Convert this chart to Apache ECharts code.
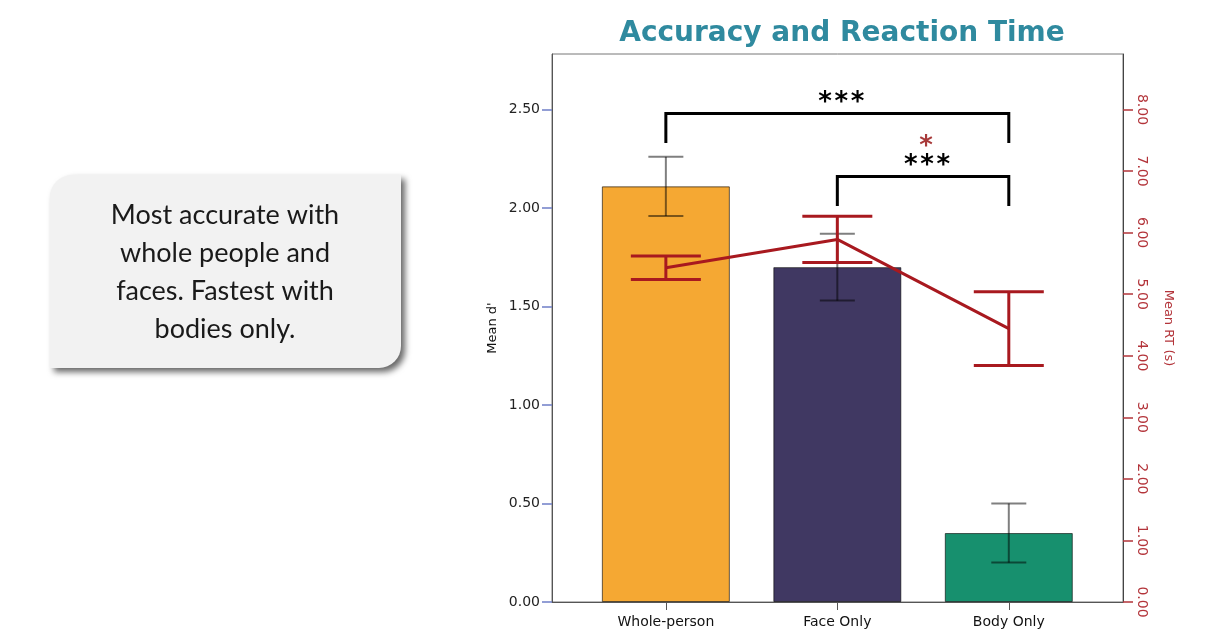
<!DOCTYPE html>
<html>
<head>
<meta charset="utf-8">
<script src="https://cdn.jsdelivr.net/npm/echarts@6/dist/echarts.min.js"></script>
<style>
html, body { margin: 0; padding: 0; background: #fff; }
#chart { width: 1217px; height: 629px; }
</style>
</head>
<body>
<div id="chart"></div>
<script>
// Conditions on the x axis
const categories = ['Whole-person', 'Face Only', 'Body Only'];
// Sensitivity (d') per condition, with error bar half-widths
const accuracyMean = [2.11, 1.70, 0.35];
const accuracyErr = [0.15, 0.17, 0.15];
// Mean reaction time in seconds, with error bar half-widths
const rtMean = [5.43, 5.89, 4.44];
const rtErr = [0.19, 0.375, 0.60];
// Tick values of both y axes
const dPrimeTicks = [0, 0.5, 1, 1.5, 2, 2.5];
const rtTicks = [0, 1, 2, 3, 4, 5, 6, 7, 8];
// Significance brackets: condition pair, bracket height and foot (d' units)
const comparisons = [
  { from: 0, to: 2, level: 2.48, foot: 2.33, stars: '***', rtStars: '' },
  { from: 1, to: 2, level: 2.16, foot: 2.01, stars: '***', rtStars: '*' }
];
const calloutLines = ['Most accurate with', 'whole people and', 'faces. Fastest with', 'bodies only.'];

const barColors = ['#f5a833', '#403862', '#17906e'];
const RED = '#a8191f';
const RED_AXIS = '#b3343a';

const chart = echarts.init(document.getElementById('chart'), null, { renderer: 'canvas' });

function errorBarRenderer(half, color, width) {
  return function (params, api) {
    const x = api.value(0), m = api.value(1), e = api.value(2);
    const hi = api.coord([x, m + e]);
    const lo = api.coord([x, m - e]);
    const st = { stroke: color, lineWidth: width };
    return {
      type: 'group',
      children: [
        { type: 'line', shape: { x1: hi[0], y1: hi[1], x2: lo[0], y2: lo[1] }, style: st },
        { type: 'line', shape: { x1: hi[0] - half, y1: hi[1], x2: hi[0] + half, y2: hi[1] }, style: st },
        { type: 'line', shape: { x1: lo[0] - half, y1: lo[1], x2: lo[0] + half, y2: lo[1] }, style: st }
      ]
    };
  };
}

const starFont = 'bold 26px "DejaVu Sans"';
const spaced = s => s.split('').join('\u200A');

const option = {
  backgroundColor: '#fff',
  animation: false,
  title: {
    text: 'Accuracy and Reaction Time',
    left: 837,
    top: 15,
    textAlign: 'center',
    textStyle: { fontFamily: 'DejaVu Sans', fontWeight: 'bold', fontSize: 28, color: '#2f8a9f' }
  },
  grid: {
    left: 552, top: 54, width: 571, height: 548,
    show: true, borderColor: '#777', borderWidth: 1, backgroundColor: 'transparent'
  },
  xAxis: {
    type: 'value',
    min: -0.664, max: 2.666,
    splitLine: { show: false },
    axisLine: { show: true, onZero: false, lineStyle: { color: '#555', width: 1 } },
    axisTick: { show: true, length: 8, lineStyle: { color: '#555' }, customValues: [0, 1, 2] },
    axisLabel: {
      customValues: [0, 1, 2],
      formatter: v => categories[Math.round(v)] || '',
      fontFamily: 'DejaVu Sans', fontSize: 14, color: '#111', margin: 13
    }
  },
  yAxis: [
    {
      type: 'value', position: 'left',
      min: 0, max: 2.782, interval: 0.5,
      name: "Mean d'", nameLocation: 'middle', nameGap: 53,
      nameTextStyle: { fontFamily: 'DejaVu Sans', fontSize: 13, color: '#111' },
      splitLine: { show: false },
      axisLine: { show: true, onZero: false, lineStyle: { color: '#555' } },
      axisTick: { show: true, length: 10, lineStyle: { color: '#6f7fc8', width: 1.5 }, customValues: dPrimeTicks },
      axisLabel: {
        customValues: dPrimeTicks,
        formatter: v => v.toFixed(2),
        fontFamily: 'DejaVu Sans', fontSize: 14, color: '#222', margin: 12
      }
    },
    {
      type: 'value', position: 'right',
      min: 0, max: 8.902, interval: 1,
      name: 'Mean RT (s)', nameLocation: 'middle', nameGap: 39, nameRotate: -90,
      nameTextStyle: { fontFamily: 'DejaVu Sans', fontSize: 13, color: RED_AXIS },
      splitLine: { show: false },
      axisLine: { show: true, onZero: false, lineStyle: { color: '#444' } },
      axisTick: { show: true, length: 10, lineStyle: { color: RED_AXIS, width: 1.5 }, customValues: rtTicks },
      axisLabel: {
        customValues: rtTicks,
        rotate: -90,
        formatter: v => v.toFixed(2),
        fontFamily: 'DejaVu Sans', fontSize: 14, color: RED_AXIS, margin: 12
      }
    }
  ],
  series: [
    {
      name: "Mean d'",
      type: 'bar',
      xAxisIndex: 0, yAxisIndex: 0,
      barWidth: 128,
      z: 2,
      data: accuracyMean.map((v, i) => ({
        value: [i, v],
        itemStyle: { color: barColors[i], borderColor: 'rgba(0,0,0,0.6)', borderWidth: 1 }
      }))
    },
    {
      name: "d' error",
      type: 'custom',
      xAxisIndex: 0, yAxisIndex: 0,
      z: 3,
      encode: { x: 0, y: 1 },
      renderItem: errorBarRenderer(17.5, 'rgba(0,0,0,0.5)', 2),
      data: accuracyMean.map((v, i) => [i, v, accuracyErr[i]])
    },
    {
      name: 'Mean RT',
      type: 'line',
      xAxisIndex: 0, yAxisIndex: 1,
      z: 4,
      symbol: 'none',
      lineStyle: { color: RED, width: 3 },
      data: rtMean.map((v, i) => [i, v])
    },
    {
      name: 'RT error',
      type: 'custom',
      xAxisIndex: 0, yAxisIndex: 1,
      z: 5,
      encode: { x: 0, y: 1 },
      renderItem: errorBarRenderer(35, RED, 3),
      data: rtMean.map((v, i) => [i, v, rtErr[i]])
    },
    {
      name: 'Significance',
      type: 'custom',
      xAxisIndex: 0, yAxisIndex: 0,
      z: 6,
      encode: { x: [0, 1], y: [2, 3] },
      renderItem: function (params, api) {
        const c = comparisons[params.dataIndex];
        const a = api.coord([c.from, c.level]);
        const b = api.coord([c.to, c.level]);
        const fa = api.coord([c.from, c.foot]);
        const fb = api.coord([c.to, c.foot]);
        const mid = (a[0] + b[0]) / 2;
        const children = [
          {
            type: 'polyline',
            shape: { points: [fa, a, b, fb] },
            style: { stroke: '#000', lineWidth: 3, fill: null, lineJoin: 'miter' }
          },
          {
            type: 'text', x: mid + 4, y: a[1] - 10,
            style: { text: spaced(c.stars), font: starFont, fill: '#000', align: 'center', verticalAlign: 'middle' }
          }
        ];
        if (c.rtStars) {
          children.push({
            type: 'text', x: mid + 3, y: a[1] - 29,
            style: { text: spaced(c.rtStars), font: starFont, fill: '#a83a3a', align: 'center', verticalAlign: 'middle' }
          });
        }
        return { type: 'group', children };
      },
      data: comparisons.map(c => [c.from, c.to, c.level, c.foot])
    }
  ],
  graphic: [
    {
      type: 'rect',
      x: 50, y: 175,
      shape: { width: 351, height: 193, r: [22, 0, 22, 0] },
      style: {
        fill: '#f2f2f2',
        shadowBlur: 6, shadowOffsetX: 4, shadowOffsetY: 4,
        shadowColor: 'rgba(0,0,0,0.6)'
      }
    },
    {
      type: 'text',
      x: 225, y: 272,
      style: {
        text: calloutLines.join('\n'),
        font: '27px Lato',
        fill: '#1a1a1a',
        align: 'center',
        verticalAlign: 'middle',
        lineHeight: 38
      }
    }
  ]
};

chart.setOption(option);
</script>
</body>
</html>
